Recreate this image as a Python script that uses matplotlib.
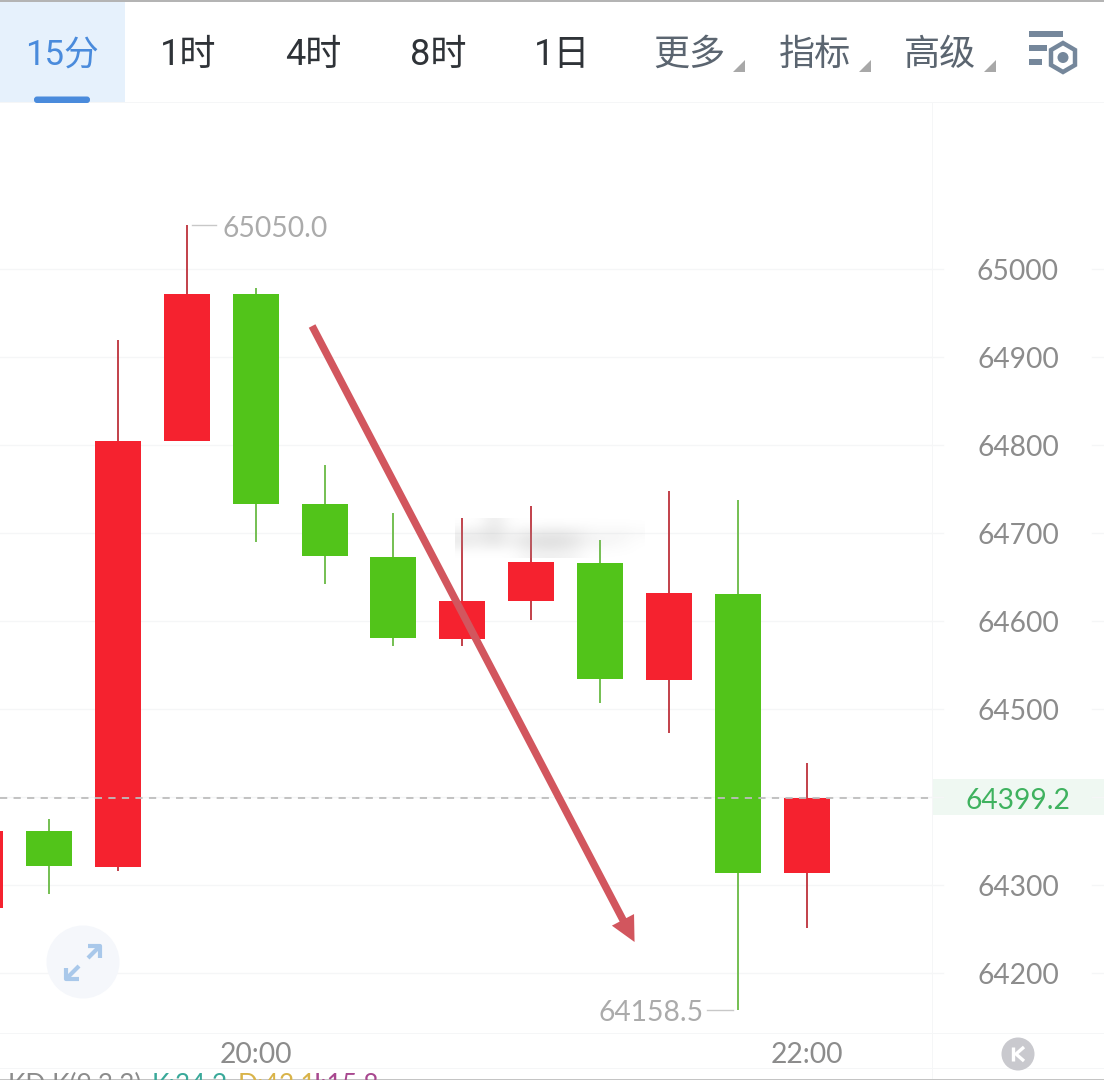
import matplotlib
matplotlib.use("Agg")
import matplotlib.pyplot as plt
import numpy as np
from matplotlib.patches import Rectangle, Circle, Polygon, FancyBboxPatch

plt.rcParams['font.family'] = ['Roboto', 'Noto Sans CJK SC', 'DejaVu Sans']

W, H = 1104, 1080

# Kerzen: Index 0 ist die angeschnittene Kerze am linken Rand
idx = [0, 1, 2, 3, 4, 5, 6, 7, 8, 9, 10, 11, 12]
opens = [64274, 64361, 64320.5, 64804.5, 64971.5, 64733, 64673, 64580, 64623, 64666, 64533, 64631, 64314]
closes = [64361, 64321.5, 64804.5, 64971.5, 64733, 64674, 64581, 64623, 64667, 64534, 64632, 64314, 64399.2]
highs = [64361, 64375, 64919, 65050, 64978, 64777, 64723, 64717, 64731, 64692, 64748, 64737.5, 64439]
lows = [64274, 64290, 64316, 64804.5, 64690, 64642, 64572, 64572, 64601, 64507, 64473, 64158.5, 64251]

price_ticks = [64200, 64300, 64400, 64500, 64600, 64700, 64800, 64900, 65000]
price_labels = ['64200', '64300', '', '64500', '64600', '64700', '64800', '64900', '65000']
time_idx = [4, 12]
time_labels = ['20:00', '22:00']
last_price = 64399.2
max_price = 65050.0
min_price = 64158.5

tabs = ['15分', '1时', '4时', '8时', '1日']
tab_x = [62, 188, 313, 438, 562]
menus = ['更多', '指标', '高级']
menu_x = [689, 815, 940]

# unten abgeschnittene Indikatorzeile (Werte nur geschaetzt)
kd_texts = ['KD K(9,3,3)', 'K:34.2', 'D:42.1', 'J:15.8']
kd_x = [8, 152, 238, 310]
kd_colors = ['#8c8c8c', '#3aa99a', '#d9b44a', '#a8488f']

UP = '#f5222f'
DOWN = '#52c41a'
UP_WICK = '#c2404a'
DOWN_WICK = '#74bf52'
GRID = '#f5f6f7'
LABEL = '#8c8c8c'
LATO = 20.3

fig = plt.figure(figsize=(W / 100, H / 100), dpi=100, facecolor='white')

# Hauptchart: x 0..932 px, y 103..1033 px
ax = fig.add_axes([0, 1 - 1033 / H, 932 / W, (1033 - 103) / H])
px_per_idx = 68.9
x0_px = -20.0
ax.set_xlim((0 - x0_px) / px_per_idx, (932 - x0_px) / px_per_idx)
py = lambda y: 64300 + (885 - y) / 0.88
ax.set_ylim(py(1033), py(103))
for s in ax.spines.values():
    s.set_visible(False)
ax.set_xticks([])
ax.set_yticks([])
ax.patch.set_alpha(0)

for t in price_ticks:
    ax.axhline(t, color=GRID, lw=1, zorder=1)

for i, o, c, h, l in zip(idx, opens, closes, highs, lows):
    up = c >= o
    ax.vlines(i, l, h, color=UP_WICK if up else DOWN_WICK, lw=1.4, zorder=3)
    ax.bar(i, abs(c - o), bottom=min(o, c), width=46 / px_per_idx, color=UP if up else DOWN, zorder=4)

ax.axhline(last_price, color='#bdbdbd', lw=1.3, ls=(0, (4, 3.5)), zorder=5)

# Hoch und Tief
ax.plot([3.07, 3.42], [max_price, max_price], color='#c8c8c8', lw=1, zorder=3)
ax.text(3.52, py(229), '65050.0', color='#ababab', fontsize=LATO, family='Lato', va='center', ha='left')
ax.plot([10.55, 10.93], [min_price, min_price], color='#c8c8c8', lw=1, zorder=3)
ax.text(10.5, py(1013), '64158.5', color='#ababab', fontsize=LATO, family='Lato', va='center', ha='right')

# Pfeil
ax.annotate('', xy=(9.5, py(942)), xytext=(4.82, py(326)),
            arrowprops=dict(arrowstyle='simple,head_length=1.0,head_width=1.0,tail_width=0.3',
                            mutation_scale=18, color='#d2565e', lw=0, shrinkA=0, shrinkB=0), zorder=6)

# Rahmen in Pixelkoordinaten
ov = fig.add_axes([0, 0, 1, 1])
ov.patch.set_alpha(0)

# verwischtes Wasserzeichen
wm = np.zeros((4, 12, 4))
wm[..., :3] = 0.62
wm[..., 3] = [[0, 0, .22, 0, 0, 0, 0, 0, 0, 0, 0, 0],
              [.16, .20, .30, .10, .18, .22, .24, .20, .10, .08, .10, .05],
              [.22, .16, .26, .12, .28, .34, .34, .26, .10, .10, .06, 0],
              [0, 0, 0, 0, .10, .14, .14, .10, 0, 0, 0, 0]]
ov.imshow(wm, extent=(455, 645, 558, 518), interpolation='bicubic', aspect='auto', zorder=7)
ov.set_xlim(0, W)
ov.set_ylim(H, 0)
ov.axis('off')

# obere Leiste
ov.add_patch(Rectangle((0, 0), W, 1.5, color='#b4b4b4', lw=0))
ov.add_patch(Rectangle((0, 1.5), 125, 101, color='#e6f1fc', lw=0))
ov.add_patch(Rectangle((0, 102), W, 1, color=GRID, lw=0))
ov.add_patch(FancyBboxPatch((34, 96.5), 56, 6.5, boxstyle='round,pad=0,rounding_size=3', color='#4a8bdc', lw=0))
for k, (t, x) in enumerate(zip(tabs, tab_x)):
    ov.text(x, 55, t, ha='center', va='center', fontsize=25 if k == 0 else 26,
            color='#4a8bdc' if k == 0 else '#2f3338')
for t, x in zip(menus, menu_x):
    ov.text(x, 55, t, ha='center', va='center', fontsize=26, color='#5b6570')
    ov.add_patch(Polygon([(x + 56, 60), (x + 56, 72), (x + 44, 72)], color='#a8a8a8', lw=0))

# Einstellungssymbol
for y, x1 in [(34, 1063), (48, 1047), (62, 1042)]:
    ov.add_patch(Rectangle((1029, y - 3), x1 - 1029, 6, color='#75879b', lw=0))
ov.add_patch(Polygon([(1063, 43), (1075, 50), (1075, 65), (1063, 72), (1051, 65), (1051, 50)],
                     closed=True, fc='white', ec='#75879b', lw=3.2))
ov.add_patch(Circle((1063, 57.5), 5.5, color='#75879b', lw=0))

# rechte Preisachse
ov.add_patch(Rectangle((931.5, 103), 1.2, H - 103, color=GRID, lw=0))
for t, lab in zip(price_ticks, price_labels):
    y = 885 - (t - 64300) * 0.88
    ov.plot([932, 943], [y, y], color=GRID, lw=1)
    ov.plot([1092, W], [y, y], color=GRID, lw=1)
    if lab:
        ov.text(1018, y + 3, lab, ha='center', va='center', fontsize=LATO, family='Lato', color=LABEL)

y_last = 885 - (last_price - 64300) * 0.88
ov.add_patch(Rectangle((933, 779), W - 933, 36, color='#eff8f2', lw=0))
ov.text(1018, y_last + 3, f'{last_price:.1f}', ha='center', va='center', fontsize=LATO, family='Lato', color='#3fb25f')

# untere Zeitachse
ov.add_patch(Rectangle((0, 1033), W, 1.2, color=GRID, lw=0))
ov.add_patch(Rectangle((0, 1068), W, 1, color=GRID, lw=0))
for i, lab in zip(time_idx, time_labels):
    ov.text(x0_px + i * px_per_idx, 1055, lab, ha='center', va='center', fontsize=LATO, family='Lato', color=LABEL)

# Vollbild-Knopf
ov.add_patch(Circle((83, 962), 36.5, color='#f5f7fb', lw=0))
ov.plot([88, 100, 100], [946, 946, 958], color='#a9c8ea', lw=3, solid_capstyle='butt')
ov.plot([88, 100], [958, 946], color='#a9c8ea', lw=3, solid_capstyle='butt')
ov.plot([66, 66, 79], [968, 979, 979], color='#a9c8ea', lw=3, solid_capstyle='butt')
ov.plot([66, 79], [979, 966], color='#a9c8ea', lw=3, solid_capstyle='butt')

# K-Knopf
ov.add_patch(Circle((1018, 1054), 16.5, color='#c9c9ce', lw=0))
ov.plot([1013, 1013], [1047, 1061], color='white', lw=2.4, solid_capstyle='butt')
ov.plot([1024, 1016, 1024], [1047, 1054, 1061], color='white', lw=2.4, solid_capstyle='butt')

# abgeschnittene Indikatorzeile
ov.add_patch(Rectangle((0, 1079), W, 1, color='#c4c4c4', lw=0))
for t, x, c in zip(kd_texts, kd_x, kd_colors):
    ov.text(x, 1073, t, ha='left', va='top', fontsize=19, family='Lato', color=c, clip_on=True)

fig.savefig('out.png', dpi=100)
